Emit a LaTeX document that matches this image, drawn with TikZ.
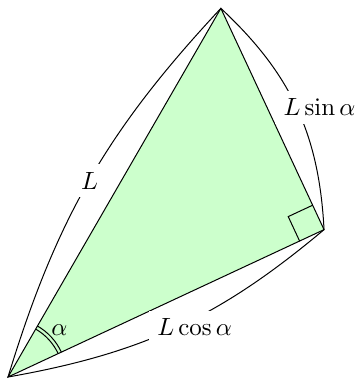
\documentclass[tikz,border=0pt]{standalone}
\usetikzlibrary{calc}
\begin{document}
\begin{tikzpicture}[
  edge/.style={line width=0.4pt},
  lbl/.style={fill=white},
  tri/.style={fill=green!20, draw=black, line width=0.4pt}
]
\useasboundingbox (-0.113,-0.014) rectangle (4.989,5.314);
\coordinate (A) at (0,0);
\coordinate (B) at (60:6);
\coordinate (C) at (25:{6*cos(35)});
% triangle
\filldraw[tri] (A) -- (C) -- (B) -- cycle;
% angle alpha
\draw[edge] ([shift=(25:0.78)]A) arc (25:60:0.78);
\draw[edge] ([shift=(25:0.83)]A) arc (25:60:0.83);
\node (alpha) at (42.5:0.98) {$\alpha$};
% right angle mark
\coordinate (P1) at ($(C)!0.38cm!(A)$);
\coordinate (P3) at ($(C)!0.38cm!(B)$);
\coordinate (P2) at ($(P1)+(P3)-(C)$);
\draw[edge] (P1) -- (P2) -- (P3);
% curved dimension lines
\draw[edge] (A) to[bend left=13] (B);
\draw[edge] (A) to[bend right=15] (C);
\draw[edge] (C) to[bend right=22] (B);
% labels
\node[lbl] (lL) at (1.15,2.77) {$L$};
\node[lbl] (lcos) at (2.63,0.70) {$L\cos\alpha$};
\node[lbl] (lsin) at (4.39,3.80) {$L\sin\alpha$};
\end{tikzpicture}
\end{document}
